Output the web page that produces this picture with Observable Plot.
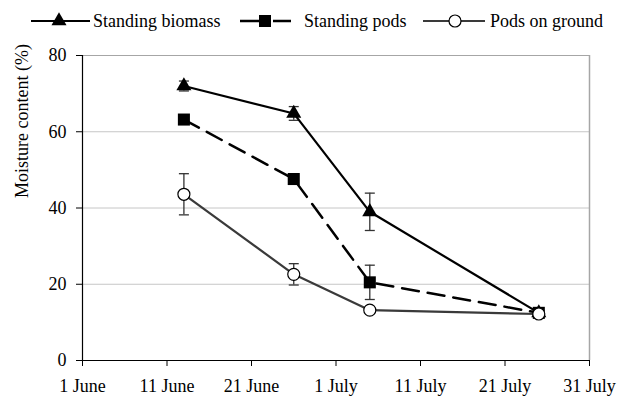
<!DOCTYPE html>
<html>
<head>
<meta charset="utf-8">
<script src="https://cdn.jsdelivr.net/npm/d3@7"></script>
<script src="https://cdn.jsdelivr.net/npm/@observablehq/plot@0.6"></script>
<style>
  html, body { margin: 0; padding: 0; background: #fff; }
  #wrap { width: 621px; height: 400px; font-family: "Liberation Serif", "DejaVu Serif", serif; }
  #legend { display: block; }
  #wrap svg text { font-family: "Liberation Serif", "DejaVu Serif", serif !important; }
</style>
</head>
<body>
<div id="wrap">
  <svg id="legend" width="621" height="40"></svg>
  <div id="chart"></div>
</div>
<script>
// ---- data ----
const sampleDates = ["2008-06-13", "2008-06-26", "2008-07-05", "2008-07-25"];
const seriesNames = ["Standing biomass", "Standing pods", "Pods on ground"];
const standingBiomass = [72, 64.8, 39, 12.5];
const standingBiomassErr = [1.3, 1.8, 4.9, 0];
const standingPods = [63.2, 47.6, 20.5, 12.5];
const standingPodsErr = [0, 0, 4.5, 0];
const podsOnGround = [43.6, 22.6, 13.2, 12.2];
const podsOnGroundErr = [5.4, 2.8, 0, 0];
const tickDates = ["2008-06-01", "2008-06-11", "2008-06-21", "2008-07-01", "2008-07-11", "2008-07-21", "2008-07-31"];
const tickLabels = ["1 June", "11 June", "21 June", "1 July", "11 July", "21 July", "31 July"];
const yTicks = [0, 20, 40, 60, 80];
const yLabel = "Moisture content (%)";

// ---- build tables ----
const FONT = '"Liberation Serif", "DejaVu Serif", serif';
const parse = d3.utcParse("%Y-%m-%d");
const dates = sampleDates.map(parse);
const ticks = tickDates.map(parse);
const valuesBySeries = [standingBiomass, standingPods, podsOnGround];
const errBySeries = [standingBiomassErr, standingPodsErr, podsOnGroundErr];
const rows = [];
seriesNames.forEach((s, si) => {
  dates.forEach((d, i) => {
    rows.push({series: s, date: d, value: valuesBySeries[si][i], err: errBySeries[si][i]});
  });
});
const errRows = rows.filter(r => r.err > 0);
const bySeries = s => rows.filter(r => r.series === s);

const cap = { draw(ctx) { ctx.moveTo(-5, 0); ctx.lineTo(5, 0); } };
const errColor = "#333";

const chart = Plot.plot({
  width: 621,
  height: 360,
  marginLeft: 82,
  marginRight: 32,
  marginTop: 15,
  marginBottom: 40,
  style: {fontFamily: FONT, fontSize: "18px", color: "#000", background: "#fff"},
  x: {type: "utc", domain: [ticks[0], ticks[ticks.length - 1]]},
  y: {domain: [0, 80]},
  marks: [
    Plot.ruleY([20, 40, 60], {stroke: "#c6c6c6", strokeWidth: 1}),
    Plot.ruleY([80], {stroke: "#a6a6a6", strokeWidth: 1}),
    Plot.ruleX([ticks[ticks.length - 1]], {y1: 0, y2: 80, stroke: "#a6a6a6", strokeWidth: 1.5}),
    Plot.ruleX([ticks[0]], {y1: 0, y2: 80, stroke: "#000", strokeWidth: 1.2}),
    Plot.ruleY([0], {stroke: "#000", strokeWidth: 1.2}),
    Plot.axisY({ticks: yTicks, tickSize: 6, tickPadding: 10, label: null, fontSize: 18, stroke: "#000"}),
    Plot.axisX({ticks: ticks, tickFormat: (d, i) => tickLabels[i], tickSize: 6, tickPadding: 13, label: null, fontSize: 18}),
    Plot.text([yLabel], {frameAnchor: "left", text: d => d, rotate: -90, dx: -60, dy: -10, fontSize: 18, fill: "#000"}),
    // error bars
    Plot.ruleX(errRows, {x: "date", y1: r => r.value - r.err, y2: r => r.value + r.err, stroke: errColor, strokeWidth: 1.3}),
    Plot.dot(errRows, {x: "date", y: r => r.value + r.err, symbol: cap, r: 5, stroke: errColor, strokeWidth: 1.3}),
    Plot.dot(errRows, {x: "date", y: r => r.value - r.err, symbol: cap, r: 5, stroke: errColor, strokeWidth: 1.3}),
    // lines
    Plot.line(bySeries(seriesNames[0]), {x: "date", y: "value", stroke: "#000", strokeWidth: 2.2}),
    Plot.line(bySeries(seriesNames[1]), {x: "date", y: "value", stroke: "#000", strokeWidth: 2.5, strokeDasharray: "17,9"}),
    Plot.line(bySeries(seriesNames[2]), {x: "date", y: "value", stroke: "#3a3a3a", strokeWidth: 2.2}),
    // markers
    Plot.dot(bySeries(seriesNames[0]), {x: "date", y: "value", symbol: "triangle", r: 5.6, fill: "#000", stroke: "none"}),
    Plot.dot(bySeries(seriesNames[1]), {x: "date", y: "value", symbol: "square", r: 6.8, fill: "#000", stroke: "none"}),
    Plot.dot(bySeries(seriesNames[2]), {x: "date", y: "value", symbol: "circle", r: 6, fill: "#fff", stroke: "#000", strokeWidth: 1.2})
  ]
});
document.getElementById("chart").appendChild(chart);

// ---- legend ----
const lg = d3.select("#legend");
const items = [
  {name: seriesNames[0], x1: 31, x2: 90, mx: 59, tx: 93, dash: null, color: "#000", sym: "triangle"},
  {name: seriesNames[1], x1: 240, x2: 291, mx: 265, tx: 304, dash: "17,9", color: "#000", sym: "square"},
  {name: seriesNames[2], x1: 423, x2: 485, mx: 455, tx: 490, dash: null, color: "#3a3a3a", sym: "circle"}
];
const ly = 21;
items.forEach(it => {
  const ln = lg.append("line").attr("x1", it.x1).attr("x2", it.x2).attr("y1", ly).attr("y2", ly)
    .attr("stroke", it.color).attr("stroke-width", it.sym === "square" ? 2.5 : 2.2);
  if (it.dash) ln.attr("stroke-dasharray", "19,14");
  if (it.sym === "triangle") {
    lg.append("path").attr("transform", `translate(${it.mx},${ly})`).attr("d", d3.symbol(d3.symbolTriangle, 5.6 * 5.6 * Math.PI)()).attr("fill", "#000");
  } else if (it.sym === "square") {
    lg.append("path").attr("transform", `translate(${it.mx},${ly})`).attr("d", d3.symbol(d3.symbolSquare, 6.8 * 6.8 * Math.PI)()).attr("fill", "#000");
  } else {
    lg.append("circle").attr("cx", it.mx).attr("cy", ly).attr("r", 6).attr("fill", "#fff").attr("stroke", "#000").attr("stroke-width", 1.2);
  }
  lg.append("text").attr("x", it.tx).attr("y", ly).attr("dy", "0.35em")
    .style("font-family", FONT).attr("font-size", 18).attr("fill", "#000").text(it.name);
});
</script>
</body>
</html>
